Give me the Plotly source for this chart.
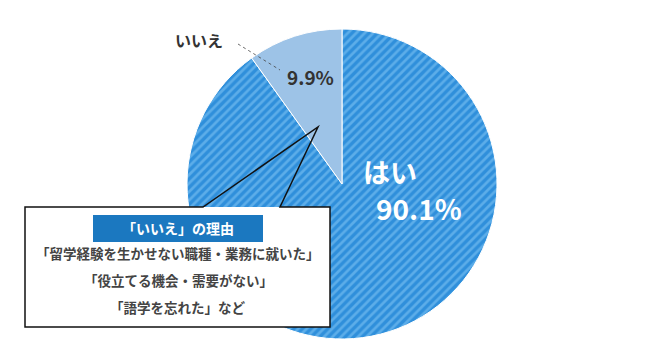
import plotly.graph_objects as go

labels = ["はい", "いいえ"]
values = [90.1, 9.9]
slice_colors = ["#2f8fdb", "#9dc3e7"]
reasons_title = "「いいえ」の理由"
reasons = ["「留学経験を生かせない職種・業務に就いた」", "「役立てる機会・需要がない」", "「語学を忘れた」など"]

W, H = 670, 364
OFF = 8  # page body margin compensation
def px(x): return (x - OFF) / W
def py(y): return 1 - (y - OFF) / H

FONT = "Noto Sans CJK JP"

fig = go.Figure(go.Pie(
    labels=labels, values=values, sort=False, direction="clockwise", rotation=0,
    marker=dict(colors=slice_colors, line=dict(color="white", width=1),
                pattern=dict(shape=["/", ""], fgcolor=["#5cade9", "#9dc3e7"],
                             bgcolor=slice_colors, size=6, solidity=0.45)),
    textinfo="none", hoverinfo="label+percent", showlegend=False,
    domain=dict(x=[px(187), px(497)], y=[py(339), py(29)]),
))

shapes = [
    dict(type="rect", xref="paper", yref="paper", x0=px(25), x1=px(330), y0=py(327), y1=py(207),
         fillcolor="white", line=dict(width=0), layer="above"),
    dict(type="path", xref="paper", yref="paper",
         path=f"M {px(25)},{py(207)} L {px(203)},{py(207)} L {px(318)},{py(127)} L {px(280)},{py(207)} "
              f"L {px(330)},{py(207)} L {px(330)},{py(327)} L {px(25)},{py(327)} Z",
         line=dict(color="#111", width=1.5), fillcolor="rgba(0,0,0,0)", layer="above"),
    dict(type="rect", xref="paper", yref="paper", x0=px(93), x1=px(263), y0=py(242), y1=py(215),
         fillcolor="#1b78c0", line=dict(width=0), layer="above"),
    dict(type="line", xref="paper", yref="paper", x0=px(238), y0=py(44), x1=px(280), y1=py(70),
         line=dict(color="#444", width=0.8, dash="dot"), layer="above"),
]

ann = []
def add(text, x, y, size, color, bold=True):
    t = f"<b>{text}</b>" if bold else text
    ann.append(dict(text=t, x=px(x), y=py(y), xref="paper", yref="paper", showarrow=False,
                    xanchor="center", yanchor="middle", font=dict(family=FONT, size=size, color=color)))

add(labels[1], 199, 40, 16, "#333")
add(f"{values[1]}%", 310, 76, 19, "#333")
add(labels[0], 390, 172, 27, "white")
add(f"{values[0]}%", 419, 208, 28, "white")
add(reasons_title, 178, 228, 14, "white")
for i, r in enumerate(reasons):
    add(r, 178, 253 + 27 * i, 13.5, "#444")

fig.update_layout(width=W, height=H, margin=dict(l=0, r=0, t=0, b=0),
                  paper_bgcolor="white", plot_bgcolor="white",
                  shapes=shapes, annotations=ann)
fig.write_html("out.html")
